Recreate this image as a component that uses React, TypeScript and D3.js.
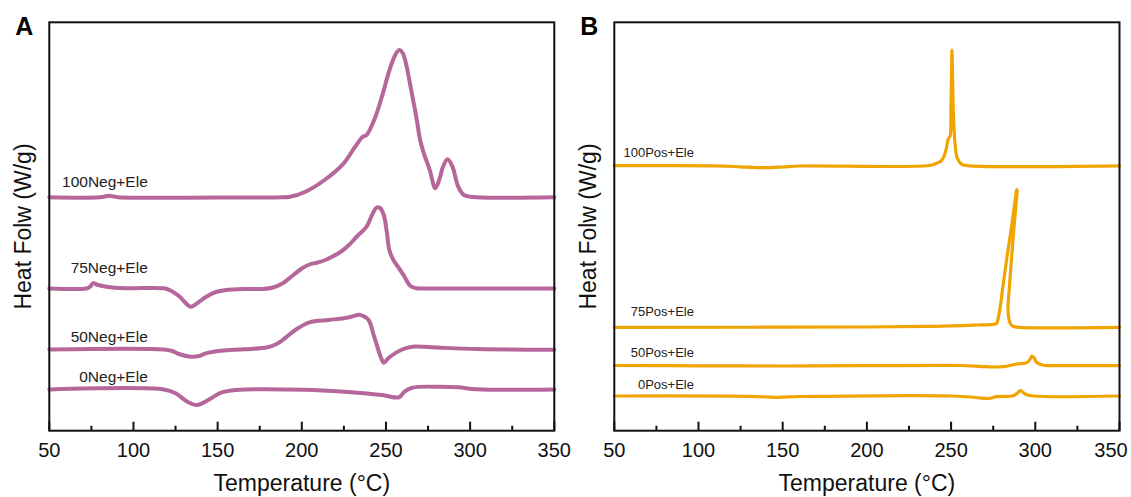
import * as d3 from "d3";

// DSC traces, [temperature °C, heat flow (offset, a.u.)]
const xTicks = [50, 100, 150, 200, 250, 300, 350];
const xMinor = [75, 125, 175, 225, 275, 325];

const negNames = ["100Neg+Ele", "75Neg+Ele", "50Neg+Ele", "0Neg+Ele"];
const posNames = ["100Pos+Ele", "75Pos+Ele", "50Pos+Ele", "0Pos+Ele"];

const neg100 = [
  [50, 23.34], [80, 23.34], [85.5, 23.49], [91, 23.34], [150, 23.32], [188.6, 23.34],
  [193.1, 23.4], [202.2, 23.9], [213.5, 25.07], [224.9, 26.74], [231.7, 28.4], [236.2, 29.4],
  [238.5, 29.57], [243, 31.07], [247.6, 33.4], [252.1, 36.07], [255.5, 37.57], [257.8, 38.07],
  [260, 37.74], [262.3, 36.4], [264.6, 34.4], [268, 31.4], [270.3, 29.07], [272.5, 27.74],
  [276, 26.07], [279.3, 24.24], [281.6, 25.07], [283.9, 26.4], [286.6, 27.14], [289.5, 26.4],
  [292.9, 24.4], [296.3, 23.57], [302, 23.37], [350, 23.34],
];
const neg75 = [
  [50, 14.22], [72, 14.22], [74, 14.37], [76, 14.74], [79, 14.57], [84, 14.39], [95, 14.24],
  [118, 14.24], [122, 14.02], [127, 13.47], [134, 12.4], [138, 12.77], [143, 13.37], [149, 13.87],
  [155, 14.07], [166, 14.17], [177, 14.17], [183, 14.32], [189, 14.77], [195, 15.57], [200, 16.22],
  [204.6, 16.62], [209, 16.8], [214, 17.07], [218, 17.4], [223, 17.87], [228, 18.57], [233, 19.47],
  [238.5, 20.4], [242, 21.67], [244.5, 22.32], [246.5, 22.27], [248.7, 21.57], [250.5, 19.87],
  [252, 18.07], [254.4, 17.07], [257.8, 16.24], [261, 15.4], [264.5, 14.47], [268, 14.24],
  [275, 14.22], [350, 14.22],
];
const neg50 = [
  [50, 8.12], [118, 8.12], [123, 7.97], [127, 7.67], [134, 7.4], [139, 7.47], [143, 7.74],
  [152, 8.0], [166, 8.14], [179.6, 8.34], [185, 8.67], [188.6, 9.07], [193, 9.67], [197.7, 10.24],
  [204.5, 10.84], [216, 11.07], [225, 11.24], [229.4, 11.4], [234, 11.6], [236.5, 11.47],
  [239.7, 11.07], [243, 9.4], [247.6, 7.07], [248.7, 6.8], [252, 7.34], [258.9, 8.07],
  [265.6, 8.4], [277, 8.34], [304, 8.17], [350, 8.1],
];
const neg0 = [
  [50, 4.12], [118, 4.12], [125, 3.74], [132, 2.9], [137.6, 2.57], [144.4, 3.07], [152, 3.8],
  [161, 4.07], [202, 4.1], [225, 3.9], [247.6, 3.57], [257.8, 3.34], [261, 3.9], [265.6, 4.3],
  [281.4, 4.4], [293, 4.34], [304, 4.14], [350, 4.12],
];

const pos100 = [
  [50, 26.5], [110, 26.49], [125, 26.39], [137, 26.3], [150, 26.37], [160, 26.47], [237, 26.52],
  [241.4, 26.74], [244, 26.97], [245.7, 27.4], [247.2, 28.27], [248.3, 29.17], [249.4, 29.47],
  [249.9, 32.07], [250.3, 36.07], [250.5, 38.07], [250.8, 36.07], [251.3, 32.07], [252.3, 28.77],
  [253.7, 27.24], [256.3, 26.64], [261.3, 26.49], [350, 26.49],
];
const pos75 = [
  [50, 10.34], [200, 10.37], [240, 10.44], [265, 10.57], [275, 10.64], [277, 10.72], [278, 11.27],
  [279, 12.17], [280.5, 14.07], [282.5, 16.57], [285.6, 20.07], [287.5, 22.37], [289, 24.12],
  [289.2, 23.97], [288.5, 22.57], [287.2, 20.07], [285.8, 17.07], [284.5, 14.07], [283.8, 12.37],
  [284.2, 11.27], [285.3, 10.67], [287, 10.42], [290, 10.34], [350, 10.34],
];
const pos50 = [
  [50, 6.52], [100, 6.49], [150, 6.47], [200, 6.5], [255, 6.52], [267, 6.44], [275, 6.37],
  [281, 6.4], [289, 6.67], [295, 6.8], [297, 7.17], [298, 7.47], [299.2, 7.32], [300.8, 6.82],
  [304.8, 6.54], [310, 6.51], [350, 6.51],
];
const pos0 = [
  [50, 3.47], [130, 3.44], [147.8, 3.34], [160, 3.42], [250, 3.47], [262, 3.37], [267, 3.27],
  [273, 3.24], [277, 3.4], [287, 3.5], [289.5, 3.77], [291, 4.02], [292.5, 3.87], [294.5, 3.62],
  [299, 3.47], [350, 3.47],
];

const FONT = "'Liberation Sans', Arial, Helvetica, sans-serif";
const W = 1131;
const TOP = 22.3;
const BOTTOM = 430.7;

type Props = {
  letter: string;
  left: number;
  right: number;
  names: string[];
  series: number[][][];
  color: string;
  lineWidth: number;
  labelSize: number;
  labelT: number;
  labelLift: number[];
};

const Panel = ({ letter, left, right, names, series, color, lineWidth, labelSize, labelT, labelLift }: Props) => {
  const x = d3.scaleLinear().domain([50, 350]).range([left, right]);
  const y = d3.scaleLinear().domain([0, 40.84]).range([BOTTOM, TOP]);
  const line = d3
    .line<number[]>()
    .x((d) => x(d[0]))
    .y((d) => y(d[1]))
    .curve(d3.curveCatmullRom.alpha(0.5));

  return (
    <g>
      <text x={left - 34} y={35} fontSize={25} fontWeight="bold" fontFamily={FONT}>
        {letter}
      </text>
      <g fill="none" stroke={color} strokeWidth={lineWidth} strokeLinejoin="round" strokeLinecap="round">
        {series.map((s, i) => (
          <path key={i} d={line(s) ?? ""} />
        ))}
      </g>
      {names.map((n, i) => (
        <text
          key={n}
          x={x(labelT)}
          y={y(series[i][0][1]) - labelLift[i]}
          textAnchor="end"
          fontSize={labelSize}
          fontFamily={FONT}
          fill="#222"
        >
          {n}
        </text>
      ))}
      <rect x={left} y={TOP} width={right - left} height={BOTTOM - TOP} fill="none" stroke="#111" strokeWidth={2} />
      <g stroke="#111" strokeWidth={2}>
        {xTicks.map((t) => (
          <line key={t} x1={x(t)} x2={x(t)} y1={BOTTOM} y2={BOTTOM - 9} />
        ))}
        {xMinor.map((t) => (
          <line key={t} x1={x(t)} x2={x(t)} y1={BOTTOM} y2={BOTTOM - 5} />
        ))}
      </g>
      <g fontSize={20} fontFamily={FONT} textAnchor="middle" fill="#111">
        {xTicks.map((t) => (
          // keep the last label inside the page, as the original does
          <text key={t} x={Math.min(x(t), W - 20)} y={457}>
            {t}
          </text>
        ))}
      </g>
      <text x={(left + right) / 2} y={491} fontSize={23} fontFamily={FONT} textAnchor="middle" fill="#111">
        Temperature (°C)
      </text>
      <text
        transform={`translate(${left - 18},${(TOP + BOTTOM) / 2}) rotate(-90)`}
        fontSize={23}
        fontFamily={FONT}
        textAnchor="middle"
        fill="#111"
      >
        Heat Folw (W/g)
      </text>
    </g>
  );
};

export default function App() {
  return (
    <>
      <style>{"body{margin:0}"}</style>
      <svg width={W} height={497} viewBox={`0 0 ${W} 497`} style={{ display: "block", background: "#fff" }}>
        <Panel
          letter="A"
          left={49.3}
          right={554.3}
          names={negNames}
          series={[neg100, neg75, neg50, neg0]}
          color="#b5669a"
          lineWidth={4}
          labelSize={15.5}
          labelT={108.5}
          labelLift={[10.6, 15.2, 7.8, 7.8]}
        />
        <Panel
          letter="B"
          left={614.3}
          right={1119.5}
          names={posNames}
          series={[pos100, pos75, pos50, pos0]}
          color="#f0a400"
          lineWidth={3.2}
          labelSize={13}
          labelT={97.3}
          labelLift={[9, 11.3, 8.8, 6.7]}
        />
      </svg>
    </>
  );
}
